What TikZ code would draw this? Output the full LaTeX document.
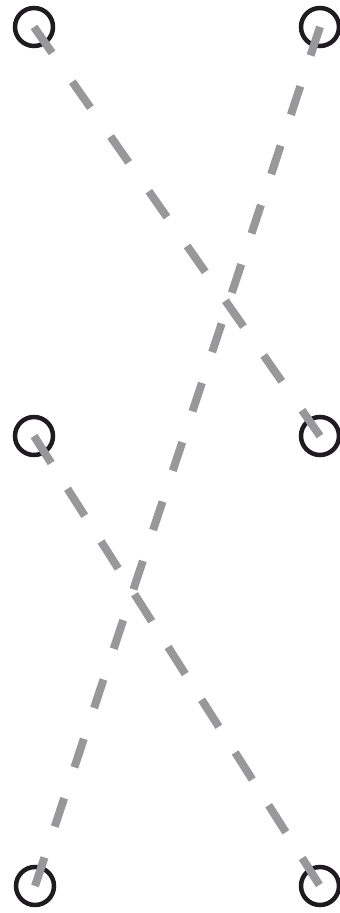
\documentclass[tikz,border=0pt]{standalone}
\definecolor{ringc}{RGB}{30,28,30}
\definecolor{dashc}{RGB}{152,152,155}
\begin{document}
\begin{tikzpicture}[x=1pt,y=1pt,
  ring/.style={circle,draw=ringc,line width=4.5pt,minimum size=38pt,inner sep=0pt},
  link/.style={draw=dashc,line width=8pt}]
\useasboundingbox (0,0) rectangle (340,913);
\node[ring] (a) at (34,886) {};
\node[ring] (b) at (320,886) {};
\node[ring] (c) at (34,477) {};
\node[ring] (d) at (320,477) {};
\node[ring] (e) at (35,27) {};
\node[ring] (f) at (320,27) {};
\draw[link,dash pattern=on 31.6pt off 35.2pt] (a.center) -- (d.center);
\draw[link,dash pattern=on 30pt off 32.5pt] (b.center) -- (e.center);
\draw[link,dash pattern=on 32pt off 30.5pt] (c.center) -- (f.center);
\end{tikzpicture}
\end{document}
